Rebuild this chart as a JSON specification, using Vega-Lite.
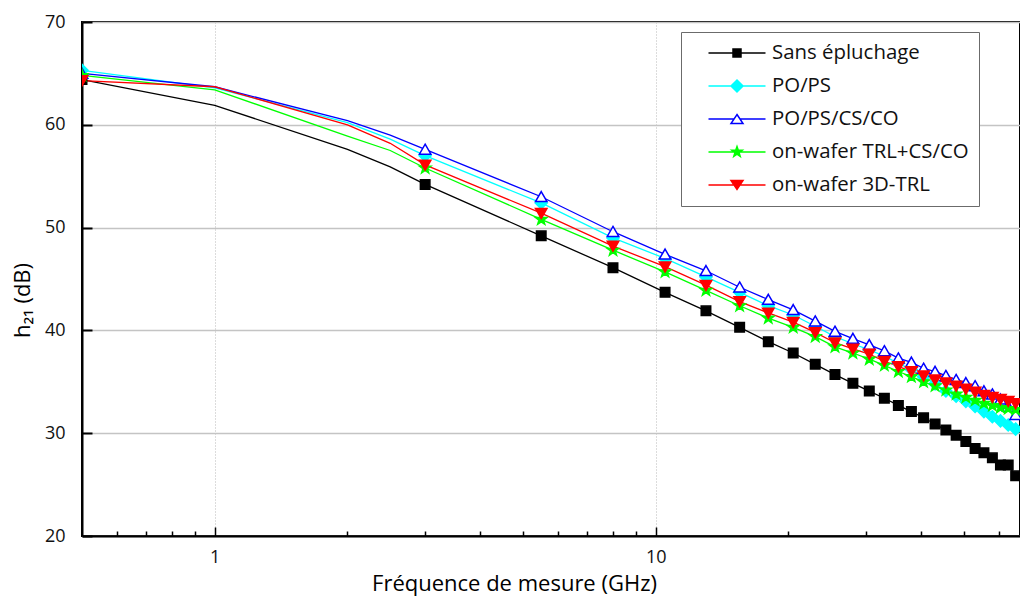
{
 "$schema": "https://vega.github.io/schema/vega-lite/v6.json",
 "width": 938, "height": 514,
 "autosize": {"type": "none"},
 "padding": {"left": 82, "top": 22, "right": 0, "bottom": 67},
 "background": "white",
 "config": {"view": {"stroke": "black", "strokeWidth": 2}, "font": "Open Sans"},
 "datasets": {"d": [
  {"s":"Sans épluchage","f":0.5,"v":64.4,"m":1},{"s":"Sans épluchage","f":1,"v":61.9,"m":0},{"s":"Sans épluchage","f":2,"v":57.6,"m":0},{"s":"Sans épluchage","f":2.5,"v":55.9,"m":0},{"s":"Sans épluchage","f":3,"v":54.2,"m":1},{"s":"Sans épluchage","f":5.5,"v":49.2,"m":1},{"s":"Sans épluchage","f":8,"v":46.1,"m":1},{"s":"Sans épluchage","f":10.5,"v":43.7,"m":1},{"s":"Sans épluchage","f":13,"v":41.9,"m":1},{"s":"Sans épluchage","f":15.5,"v":40.3,"m":1},{"s":"Sans épluchage","f":18,"v":38.9,"m":1},{"s":"Sans épluchage","f":20.5,"v":37.8,"m":1},{"s":"Sans épluchage","f":23,"v":36.7,"m":1},{"s":"Sans épluchage","f":25.5,"v":35.7,"m":1},{"s":"Sans épluchage","f":28,"v":34.85,"m":1},{"s":"Sans épluchage","f":30.5,"v":34.1,"m":1},{"s":"Sans épluchage","f":33,"v":33.4,"m":1},{"s":"Sans épluchage","f":35.5,"v":32.7,"m":1},{"s":"Sans épluchage","f":38,"v":32.1,"m":1},{"s":"Sans épluchage","f":40.5,"v":31.5,"m":1},{"s":"Sans épluchage","f":43,"v":30.9,"m":1},{"s":"Sans épluchage","f":45.5,"v":30.3,"m":1},{"s":"Sans épluchage","f":48,"v":29.8,"m":1},{"s":"Sans épluchage","f":50.5,"v":29.2,"m":1},{"s":"Sans épluchage","f":53,"v":28.5,"m":1},{"s":"Sans épluchage","f":55.5,"v":28.1,"m":1},{"s":"Sans épluchage","f":58,"v":27.6,"m":1},{"s":"Sans épluchage","f":60.5,"v":26.9,"m":1},{"s":"Sans épluchage","f":63,"v":26.9,"m":1},{"s":"Sans épluchage","f":65.5,"v":25.85,"m":1},
  {"s":"PO/PS","f":0.5,"v":65.3,"m":1},{"s":"PO/PS","f":1,"v":63.6,"m":0},{"s":"PO/PS","f":2,"v":60.2,"m":0},{"s":"PO/PS","f":2.5,"v":58.6,"m":0},{"s":"PO/PS","f":3,"v":57.0,"m":1},{"s":"PO/PS","f":5.5,"v":52.4,"m":1},{"s":"PO/PS","f":8,"v":49.0,"m":1},{"s":"PO/PS","f":10.5,"v":47.0,"m":1},{"s":"PO/PS","f":13,"v":45.2,"m":1},{"s":"PO/PS","f":15.5,"v":43.7,"m":1},{"s":"PO/PS","f":18,"v":42.4,"m":1},{"s":"PO/PS","f":20.5,"v":41.5,"m":1},{"s":"PO/PS","f":23,"v":40.4,"m":1},{"s":"PO/PS","f":25.5,"v":39.4,"m":1},{"s":"PO/PS","f":28,"v":38.7,"m":1},{"s":"PO/PS","f":30.5,"v":38.1,"m":1},{"s":"PO/PS","f":33,"v":37.5,"m":1},{"s":"PO/PS","f":35.5,"v":36.8,"m":1},{"s":"PO/PS","f":38,"v":36.2,"m":1},{"s":"PO/PS","f":40.5,"v":35.5,"m":1},{"s":"PO/PS","f":43,"v":34.8,"m":1},{"s":"PO/PS","f":45.5,"v":34.1,"m":1},{"s":"PO/PS","f":48,"v":33.6,"m":1},{"s":"PO/PS","f":50.5,"v":33.1,"m":1},{"s":"PO/PS","f":53,"v":32.6,"m":1},{"s":"PO/PS","f":55.5,"v":32.1,"m":1},{"s":"PO/PS","f":58,"v":31.6,"m":1},{"s":"PO/PS","f":60.5,"v":31.2,"m":1},{"s":"PO/PS","f":63,"v":30.8,"m":1},{"s":"PO/PS","f":65.5,"v":30.4,"m":1},
  {"s":"PO/PS/CS/CO","f":0.5,"v":65.0,"m":1},{"s":"PO/PS/CS/CO","f":1,"v":63.7,"m":0},{"s":"PO/PS/CS/CO","f":2,"v":60.4,"m":0},{"s":"PO/PS/CS/CO","f":2.5,"v":59.0,"m":0},{"s":"PO/PS/CS/CO","f":3,"v":57.6,"m":1},{"s":"PO/PS/CS/CO","f":5.5,"v":53.0,"m":1},{"s":"PO/PS/CS/CO","f":8,"v":49.6,"m":1},{"s":"PO/PS/CS/CO","f":10.5,"v":47.4,"m":1},{"s":"PO/PS/CS/CO","f":13,"v":45.8,"m":1},{"s":"PO/PS/CS/CO","f":15.5,"v":44.2,"m":1},{"s":"PO/PS/CS/CO","f":18,"v":43.0,"m":1},{"s":"PO/PS/CS/CO","f":20.5,"v":42.0,"m":1},{"s":"PO/PS/CS/CO","f":23,"v":40.9,"m":1},{"s":"PO/PS/CS/CO","f":25.5,"v":39.9,"m":1},{"s":"PO/PS/CS/CO","f":28,"v":39.2,"m":1},{"s":"PO/PS/CS/CO","f":30.5,"v":38.6,"m":1},{"s":"PO/PS/CS/CO","f":33,"v":38.0,"m":1},{"s":"PO/PS/CS/CO","f":35.5,"v":37.3,"m":1},{"s":"PO/PS/CS/CO","f":38,"v":36.9,"m":1},{"s":"PO/PS/CS/CO","f":40.5,"v":36.3,"m":1},{"s":"PO/PS/CS/CO","f":43,"v":36.0,"m":1},{"s":"PO/PS/CS/CO","f":45.5,"v":35.6,"m":1},{"s":"PO/PS/CS/CO","f":48,"v":35.2,"m":1},{"s":"PO/PS/CS/CO","f":50.5,"v":34.9,"m":1},{"s":"PO/PS/CS/CO","f":53,"v":34.6,"m":1},{"s":"PO/PS/CS/CO","f":55.5,"v":34.1,"m":1},{"s":"PO/PS/CS/CO","f":58,"v":33.8,"m":1},{"s":"PO/PS/CS/CO","f":60.5,"v":33.3,"m":1},{"s":"PO/PS/CS/CO","f":63,"v":32.6,"m":1},{"s":"PO/PS/CS/CO","f":65.5,"v":31.8,"m":1},
  {"s":"on-wafer TRL+CS/CO","f":0.5,"v":64.8,"m":1},{"s":"on-wafer TRL+CS/CO","f":1,"v":63.4,"m":0},{"s":"on-wafer TRL+CS/CO","f":2,"v":58.9,"m":0},{"s":"on-wafer TRL+CS/CO","f":2.5,"v":57.5,"m":0},{"s":"on-wafer TRL+CS/CO","f":3,"v":55.8,"m":1},{"s":"on-wafer TRL+CS/CO","f":5.5,"v":50.8,"m":1},{"s":"on-wafer TRL+CS/CO","f":8,"v":47.8,"m":1},{"s":"on-wafer TRL+CS/CO","f":10.5,"v":45.7,"m":1},{"s":"on-wafer TRL+CS/CO","f":13,"v":43.9,"m":1},{"s":"on-wafer TRL+CS/CO","f":15.5,"v":42.4,"m":1},{"s":"on-wafer TRL+CS/CO","f":18,"v":41.2,"m":1},{"s":"on-wafer TRL+CS/CO","f":20.5,"v":40.3,"m":1},{"s":"on-wafer TRL+CS/CO","f":23,"v":39.4,"m":1},{"s":"on-wafer TRL+CS/CO","f":25.5,"v":38.4,"m":1},{"s":"on-wafer TRL+CS/CO","f":28,"v":37.8,"m":1},{"s":"on-wafer TRL+CS/CO","f":30.5,"v":37.2,"m":1},{"s":"on-wafer TRL+CS/CO","f":33,"v":36.6,"m":1},{"s":"on-wafer TRL+CS/CO","f":35.5,"v":36.0,"m":1},{"s":"on-wafer TRL+CS/CO","f":38,"v":35.5,"m":1},{"s":"on-wafer TRL+CS/CO","f":40.5,"v":35.0,"m":1},{"s":"on-wafer TRL+CS/CO","f":43,"v":34.6,"m":1},{"s":"on-wafer TRL+CS/CO","f":45.5,"v":34.2,"m":1},{"s":"on-wafer TRL+CS/CO","f":48,"v":33.8,"m":1},{"s":"on-wafer TRL+CS/CO","f":50.5,"v":33.5,"m":1},{"s":"on-wafer TRL+CS/CO","f":53,"v":33.2,"m":1},{"s":"on-wafer TRL+CS/CO","f":55.5,"v":32.9,"m":1},{"s":"on-wafer TRL+CS/CO","f":58,"v":32.7,"m":1},{"s":"on-wafer TRL+CS/CO","f":60.5,"v":32.5,"m":1},{"s":"on-wafer TRL+CS/CO","f":63,"v":32.4,"m":1},{"s":"on-wafer TRL+CS/CO","f":65.5,"v":32.3,"m":1},
  {"s":"on-wafer 3D-TRL","f":0.5,"v":64.3,"m":1},{"s":"on-wafer 3D-TRL","f":1,"v":63.7,"m":0},{"s":"on-wafer 3D-TRL","f":2,"v":60.0,"m":0},{"s":"on-wafer 3D-TRL","f":2.5,"v":58.2,"m":0},{"s":"on-wafer 3D-TRL","f":3,"v":56.1,"m":1},{"s":"on-wafer 3D-TRL","f":5.5,"v":51.4,"m":1},{"s":"on-wafer 3D-TRL","f":8,"v":48.2,"m":1},{"s":"on-wafer 3D-TRL","f":10.5,"v":46.2,"m":1},{"s":"on-wafer 3D-TRL","f":13,"v":44.4,"m":1},{"s":"on-wafer 3D-TRL","f":15.5,"v":42.8,"m":1},{"s":"on-wafer 3D-TRL","f":18,"v":41.7,"m":1},{"s":"on-wafer 3D-TRL","f":20.5,"v":40.8,"m":1},{"s":"on-wafer 3D-TRL","f":23,"v":39.8,"m":1},{"s":"on-wafer 3D-TRL","f":25.5,"v":38.8,"m":1},{"s":"on-wafer 3D-TRL","f":28,"v":38.2,"m":1},{"s":"on-wafer 3D-TRL","f":30.5,"v":37.7,"m":1},{"s":"on-wafer 3D-TRL","f":33,"v":37.0,"m":1},{"s":"on-wafer 3D-TRL","f":35.5,"v":36.5,"m":1},{"s":"on-wafer 3D-TRL","f":38,"v":36.0,"m":1},{"s":"on-wafer 3D-TRL","f":40.5,"v":35.6,"m":1},{"s":"on-wafer 3D-TRL","f":43,"v":35.2,"m":1},{"s":"on-wafer 3D-TRL","f":45.5,"v":34.9,"m":1},{"s":"on-wafer 3D-TRL","f":48,"v":34.6,"m":1},{"s":"on-wafer 3D-TRL","f":50.5,"v":34.3,"m":1},{"s":"on-wafer 3D-TRL","f":53,"v":34.0,"m":1},{"s":"on-wafer 3D-TRL","f":55.5,"v":33.7,"m":1},{"s":"on-wafer 3D-TRL","f":58,"v":33.5,"m":1},{"s":"on-wafer 3D-TRL","f":60.5,"v":33.3,"m":1},{"s":"on-wafer 3D-TRL","f":63,"v":33.1,"m":1},{"s":"on-wafer 3D-TRL","f":65.5,"v":32.9,"m":1}
 ]},
 "data": {"name": "d"},
 "encoding": {
  "y": {"field": "v", "type": "quantitative", "scale": {"domain": [20, 70], "nice": false, "zero": false},
   "axis": {"title": "h₂₁ (dB)", "values": [20, 30, 40, 50, 60, 70], "grid": true, "gridColor": "#c4c4c4", "gridWidth": 1.3,
    "domainColor": "#000", "domainWidth": 2, "tickColor": "#000", "tickWidth": 2, "tickSize": -10,
    "labelFontSize": 18, "labelColor": "#111", "labelPadding": 27,
    "titleFontSize": 22, "titleFontWeight": "normal", "titleColor": "#000", "titleX": -48, "titleY": 278}}
 },
 "layer": [
  {"mark": {"type": "line", "strokeWidth": 1.3, "clip": true},
   "encoding": {
    "x": {"field": "f", "type": "quantitative", "scale": {"type": "log", "domain": [0.5, 67], "nice": false},
     "axis": {"orient": "bottom", "values": [1, 10], "format": "d", "title": "Fréquence de mesure (GHz)",
      "grid": true, "gridColor": "#b8b8b8", "gridDash": [1, 2], "gridWidth": 1,
      "domainColor": "#000", "domainWidth": 2, "tickColor": "#000", "tickWidth": 1.5, "tickSize": -9,
      "labelFontSize": 18, "labelColor": "#111", "labelPadding": 21,
      "titleFontSize": 22, "titleFontWeight": "normal", "titleColor": "#000", "titleX": 432, "titleY": 47, "titleBaseline": "middle"}},
    "color": {"field": "s", "type": "nominal", "legend": null,
     "scale": {"domain": ["Sans épluchage", "PO/PS", "PO/PS/CS/CO", "on-wafer TRL+CS/CO", "on-wafer 3D-TRL"],
      "range": ["#000000", "#00ffff", "#0000ff", "#00ff00", "#ff0000"]}}
   }},
  {"transform": [{"filter": "datum.m == 1"}],
   "mark": {"type": "point", "filled": true, "size": 100, "strokeWidth": 1.5, "opacity": 1, "clip": true},
   "encoding": {
    "x": {"field": "f", "type": "quantitative", "scale": {"type": "log", "domain": [0.5, 67], "nice": false},
     "axis": {"orient": "bottom", "values": [0.6, 0.7, 0.8, 0.9, 2, 3, 4, 5, 6, 7, 8, 9, 20, 30, 40, 50, 60], "labels": false, "grid": false, "domain": false, "title": null,
      "tickColor": "#000", "tickWidth": 1.5, "tickSize": -5}},
    "fill": {"field": "s", "type": "nominal", "legend": null,
     "scale": {"domain": ["Sans épluchage", "PO/PS", "PO/PS/CS/CO", "on-wafer TRL+CS/CO", "on-wafer 3D-TRL"],
      "range": ["#000000", "#00ffff", "#ffffff", "#00ff00", "#ff0000"]}},
    "stroke": {"field": "s", "type": "nominal", "legend": null,
     "scale": {"domain": ["Sans épluchage", "PO/PS", "PO/PS/CS/CO", "on-wafer TRL+CS/CO", "on-wafer 3D-TRL"],
      "range": ["#000000", "#00ffff", "#0000ff", "#00ff00", "#ff0000"]}},
    "shape": {"field": "s", "type": "nominal", "legend": null,
     "scale": {"domain": ["Sans épluchage", "PO/PS", "PO/PS/CS/CO", "on-wafer TRL+CS/CO", "on-wafer 3D-TRL"],
      "range": ["M-0.95,-0.95H0.95V0.95H-0.95Z", "M0,-1.2L1.2,0L0,1.2L-1.2,0Z", "M0,-1.05L1.15,0.95L-1.15,0.95Z",
       "M0,-1.2L0.282,-0.389L1.141,-0.371L0.456,0.149L0.706,0.971L0,0.48L-0.706,0.971L-0.456,0.149L-1.141,-0.371L-0.282,-0.389Z",
       "M-1.15,-0.95L1.15,-0.95L0,1.05Z"]}}
   }},
  {"transform": [{"filter": "false"}],
   "mark": {"type": "point", "filled": true, "opacity": 1},
   "encoding": {
    "x": {"field": "f", "type": "quantitative", "scale": {"type": "log", "domain": [0.5, 67], "nice": false}, "axis": null},
    "fill": {"field": "s", "type": "nominal",
     "scale": {"domain": ["Sans épluchage", "PO/PS", "PO/PS/CS/CO", "on-wafer TRL+CS/CO", "on-wafer 3D-TRL"],
      "range": ["#000000", "#00ffff", "#ffffff", "#00ff00", "#ff0000"]},
     "legend": {"orient": "none", "legendX": 599, "legendY": 10, "title": null, "padding": 10,
      "strokeColor": "#6b6b6b", "fillColor": "#ffffff", "symbolSize": 400, "symbolStrokeWidth": 1.5,
      "labelFontSize": 20.4, "labelColor": "#111", "rowPadding": 11, "symbolOffset": 35, "labelOffset": 24, "labelLimit": 400,
      "labelExpr": "datum.label + '\u2002\u2002'"}},
    "stroke": {"field": "s", "type": "nominal",
     "scale": {"domain": ["Sans épluchage", "PO/PS", "PO/PS/CS/CO", "on-wafer TRL+CS/CO", "on-wafer 3D-TRL"],
      "range": ["#000000", "#00ffff", "#0000ff", "#00ff00", "#ff0000"]},
     "legend": {"orient": "none", "legendX": 599, "legendY": 10, "title": null, "padding": 10,
      "strokeColor": "#6b6b6b", "fillColor": "#ffffff", "symbolSize": 400, "symbolStrokeWidth": 1.5,
      "labelFontSize": 20.4, "labelColor": "#111", "rowPadding": 11, "symbolOffset": 35, "labelOffset": 24, "labelLimit": 400,
      "labelExpr": "datum.label + '\u2002\u2002'"}},
    "shape": {"field": "s", "type": "nominal",
     "scale": {"domain": ["Sans épluchage", "PO/PS", "PO/PS/CS/CO", "on-wafer TRL+CS/CO", "on-wafer 3D-TRL"],
      "range": ["M-2.85,0H2.85M-0.4,-0.4H0.4V0.4H-0.4Z", "M-2.85,0H2.85M0,-0.6L0.6,0L0,0.6L-0.6,0Z", "M-2.85,0H-0.3M0.3,0H2.85M0,-0.45L0.6,0.45L-0.6,0.45Z",
       "M-2.85,0H2.85M0,-0.55L0.129,-0.178L0.523,-0.17L0.209,0.068L0.323,0.445L0,0.22L-0.323,0.445L-0.209,0.068L-0.523,-0.17L-0.129,-0.178Z",
       "M-2.85,0H2.85M-0.6,-0.45L0.6,-0.45L0,0.45Z"]},
     "legend": {"orient": "none", "legendX": 599, "legendY": 10, "title": null, "padding": 10,
      "strokeColor": "#6b6b6b", "fillColor": "#ffffff", "symbolSize": 400, "symbolStrokeWidth": 1.5,
      "labelFontSize": 20.4, "labelColor": "#111", "rowPadding": 11, "symbolOffset": 35, "labelOffset": 24, "labelLimit": 400,
      "labelExpr": "datum.label + '\u2002\u2002'"}}
   }}
 ],
 "resolve": {"scale": {"fill": "independent", "stroke": "independent", "shape": "independent"}, "axis": {"x": "independent"}}
}
